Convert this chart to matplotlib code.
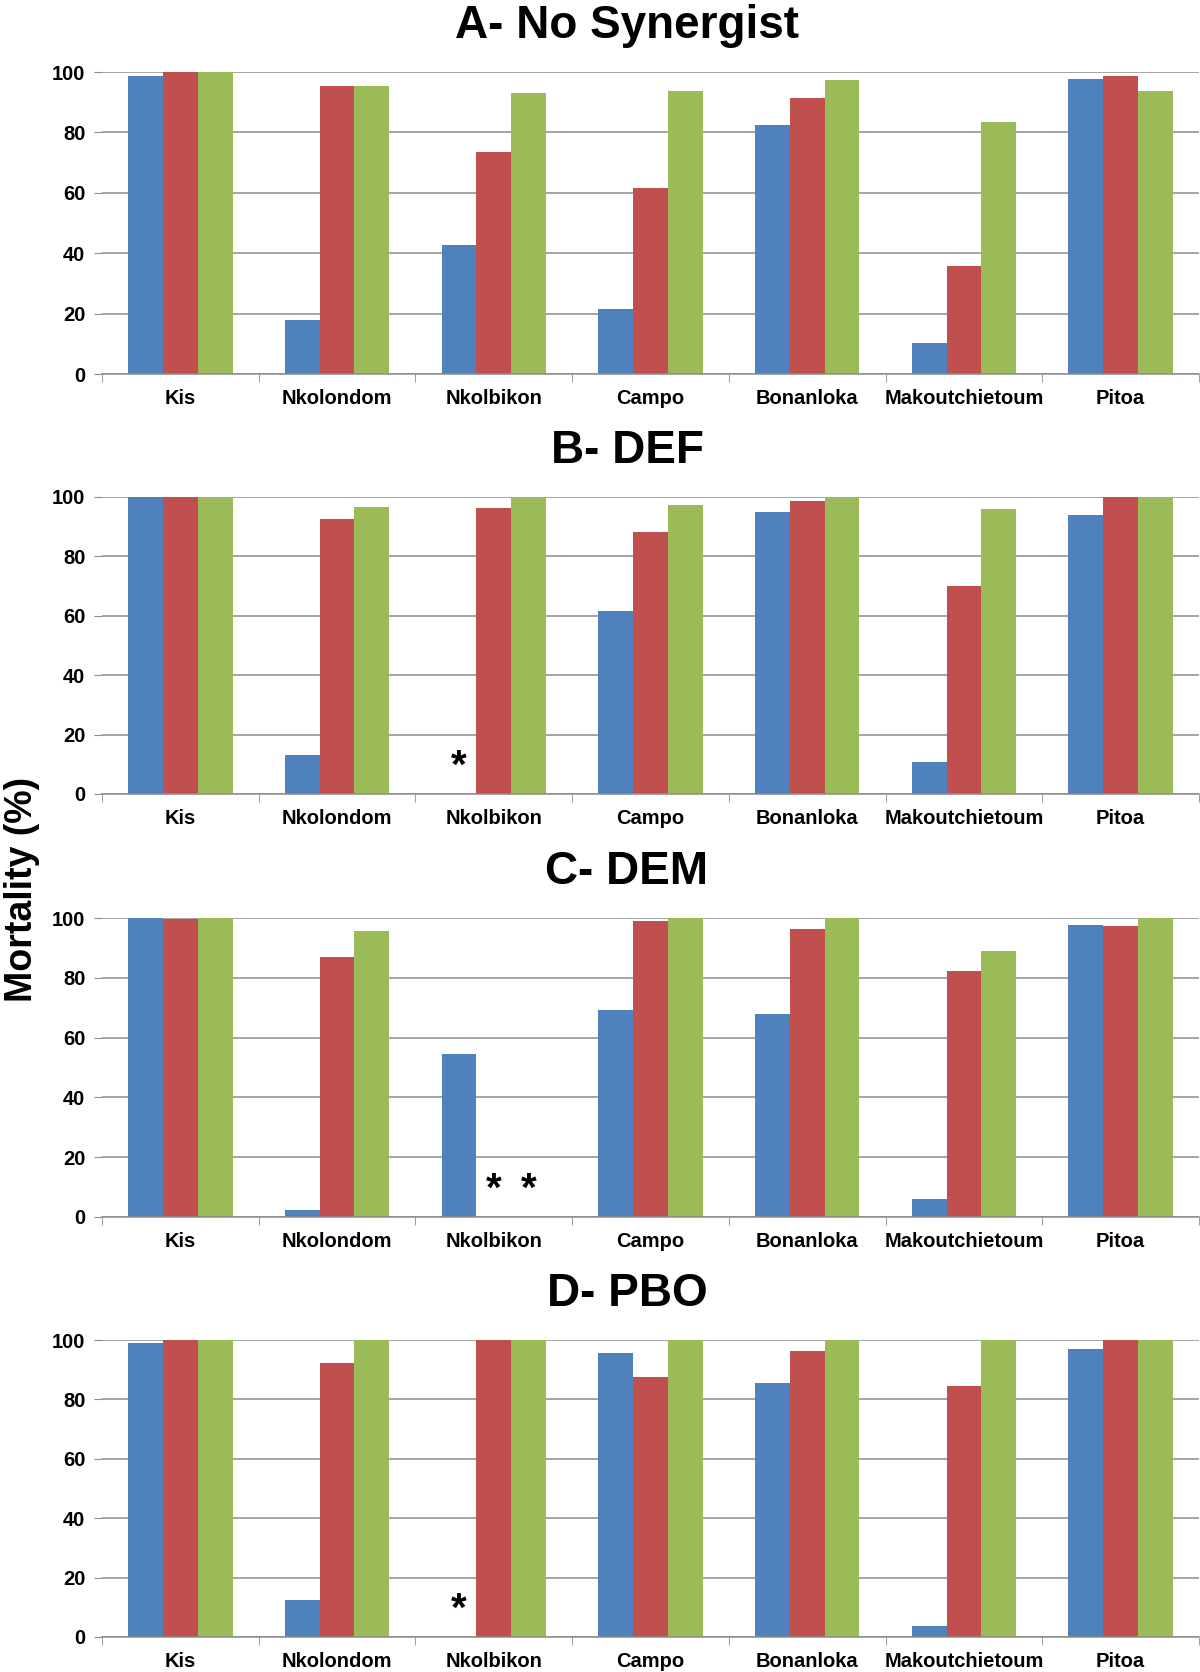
import matplotlib.pyplot as plt
import numpy as np

plt.rcParams['font.family'] = ['Liberation Sans', 'DejaVu Sans']
plt.rcParams['font.weight'] = 'bold'

sites = ['Kis', 'Nkolondom', 'Nkolbikon', 'Campo', 'Bonanloka',
         'Makoutchietoum', 'Pitoa']

panel_titles = ['A- No Synergist', 'B- DEF', 'C- DEM', 'D- PBO']

# mortality (%) per site, three insecticides (blue, red, green)
no_syn_blue = [98.8, 17.8, 42.7, 21.4, 82.5, 10.1, 97.8]
no_syn_red = [100, 95.2, 73.6, 61.5, 91.3, 35.8, 98.8]
no_syn_green = [100, 95.2, 92.9, 93.6, 97.5, 83.4, 93.6]

def_blue = [100, 13.0, 0, 61.6, 95.1, 10.7, 94.0]
def_red = [100, 92.7, 96.3, 88.3, 98.7, 69.9, 100]
def_green = [100, 96.6, 100, 97.3, 100, 96.0, 100]

dem_blue = [100, 2.5, 54.4, 69.2, 67.9, 6.0, 97.8]
dem_red = [99.6, 87.0, 0, 98.9, 96.4, 82.4, 97.4]
dem_green = [100, 95.5, 0, 100, 100, 89.0, 100]

pbo_blue = [98.9, 12.3, 0, 95.5, 85.6, 3.7, 96.9]
pbo_red = [100, 92.3, 100, 87.7, 96.3, 84.6, 100]
pbo_green = [100, 100, 100, 100, 100, 100, 100]

# not tested: (panel, site index, series index)
not_tested = [(1, 2, 0), (2, 2, 1), (2, 2, 2), (3, 2, 0)]

panels = [
    (no_syn_blue, no_syn_red, no_syn_green),
    (def_blue, def_red, def_green),
    (dem_blue, dem_red, dem_green),
    (pbo_blue, pbo_red, pbo_green),
]
colors = ['#4F81BD', '#C0504D', '#9BBB59']
grid_col = '#8C8C8C'

W, H = 1200, 1672
fig = plt.figure(figsize=(12, 16.72), dpi=100)

# axes tops / bottoms in pixels (from top of image)
ax_px = [(72, 374), (497, 794), (918, 1217), (1340, 1637)]
left_px, right_px = 102, 1199

x = np.arange(len(sites))
bw = 0.222
offsets = [-bw, 0, bw]

for p, (top, bot) in enumerate(ax_px):
    ax = fig.add_axes([left_px / W, 1 - bot / H,
                       (right_px - left_px) / W, (bot - top) / H])
    for s, vals in enumerate(panels[p]):
        ax.bar(x + offsets[s], vals, width=bw, color=colors[s],
               edgecolor='none', zorder=2)
    for pp, si, sj in not_tested:
        if pp == p:
            ax.text(si + offsets[sj], 9, '*', ha='center', va='center',
                    fontsize=29, fontweight='bold', zorder=3)

    ax.set_xlim(-0.5, len(sites) - 0.5)
    ax.set_ylim(0, 100)
    ax.set_yticks([0, 20, 40, 60, 80, 100])
    ax.set_xticks(x)
    ax.set_xticklabels(sites, fontsize=14.5, fontweight='bold')
    ax.set_xticks(np.arange(len(sites) + 1) - 0.5, minor=True)
    ax.tick_params(axis='x', which='major', length=0, pad=11)
    ax.tick_params(axis='x', which='minor', length=6, color=grid_col,
                   direction='out')
    ax.tick_params(axis='y', length=6, color=grid_col, pad=6,
                   labelsize=14.5)
    for lab in ax.get_yticklabels():
        lab.set_fontweight('bold')
    ax.grid(axis='y', color=grid_col, linewidth=1.1, zorder=0)
    ax.set_axisbelow(True)
    for side in ['left', 'right', 'top']:
        ax.spines[side].set_visible(False)
    ax.spines['bottom'].set_color(grid_col)
    ax.spines['bottom'].set_linewidth(1.1)

    fig.text(627 / W, 1 - (top - 46) / H, panel_titles[p], ha='center',
             va='center', fontsize=33, fontweight='bold')

fig.text(22 / W, 1 - 889 / H, 'Mortality (%)', rotation=90, ha='center',
         va='center', fontsize=27, fontweight='bold')

fig.savefig('out.png', dpi=100)
